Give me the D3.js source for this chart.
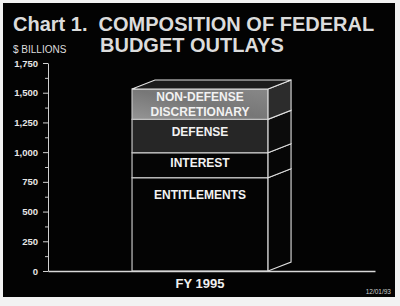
<!DOCTYPE html>
<html>
<head>
<meta charset="utf-8">
<script src="https://cdn.jsdelivr.net/npm/d3@7"></script>
<style>
  body { margin: 0; background: #f2f2f2; }
  svg { display: block; font-family: "Liberation Sans", Arial, sans-serif; }
  .tick text { fill: #e6e6e6; font-weight: bold; }
</style>
</head>
<body>
<svg id="chart" width="400" height="306"></svg>
<script>
// chart data
const years = ["FY 1995"]
const segments = ["ENTITLEMENTS", "INTEREST", "DEFENSE", "NON-DEFENSE DISCRETIONARY"]
const outlays = [785, 210, 281, 255]   // $ billions, bottom to top
const yTicks = [0, 250, 500, 750, 1000, 1250, 1500, 1750]
const yMinorTicks = [125, 375, 625, 875, 1125, 1375, 1625]

let svg = d3.select("#chart")

// black panel
svg.append("rect").attr("x", 3).attr("y", 3).attr("width", 392).attr("height", 294).style("fill", "#030303")

// title
svg.append("text").attr("x", 13).attr("y", 31).text("Chart 1.  COMPOSITION OF FEDERAL")
    .style("white-space", "pre")
    .style("font-size", "20px").style("font-weight", "bold").style("fill", "#dcdcdc")
svg.append("text").attr("x", 100).attr("y", 52).text("BUDGET OUTLAYS")
    .style("font-size", "20px").style("font-weight", "bold").style("fill", "#dcdcdc")
svg.append("text").attr("x", 13).attr("y", 53).text("$ BILLIONS")
    .style("font-size", "10px").style("fill", "#dddddd")
svg.append("text").attr("x", 391).attr("y", 294).text("12/01/93")
    .style("font-size", "6.5px").style("fill", "#cccccc").style("text-anchor", "end")

// scales
let x = d3.scaleBand()
    .domain(years)
    .range([48, 375])
    .paddingInner(0)
    .paddingOuter(0.702)
    .align(0.44)

let y = d3.scaleLinear()
    .domain([0, 1750])
    .range([271, 63])

// y axis
let yAxisG = svg.append("g").attr("transform", "translate(48,0)")
    .call(d3.axisLeft(y).tickValues(yTicks).tickFormat(d3.format(",")).tickSize(5).tickSizeOuter(0).tickPadding(5))
yAxisG.selectAll("text").style("font-size", "9.5px")
yAxisG.selectAll("line, path").style("stroke", "#d0d0d0")

let yMinorG = svg.append("g").attr("transform", "translate(48,0)")
    .call(d3.axisLeft(y).tickValues(yMinorTicks).tickFormat("").tickSize(3).tickSizeOuter(0))
yMinorG.select(".domain").remove()
yMinorG.selectAll("line").style("stroke", "#c8c8c8")

// stack data
let stacked = []
let base = 0
outlays.forEach((v, i) => {
    stacked.push({ name: segments[i], y0: base, y1: base + v })
    base += v
})

// fills
let defs = svg.append("defs")
let grad = defs.append("linearGradient").attr("id", "ndGrad")
    .attr("x1", "0").attr("y1", "1").attr("x2", "1").attr("y2", "0")
grad.append("stop").attr("offset", "0%").attr("stop-color", "#959595")
grad.append("stop").attr("offset", "50%").attr("stop-color", "#777777")
grad.append("stop").attr("offset", "100%").attr("stop-color", "#888888")

let frontFill = ["#040404", "#050505", "#262626", "url(#ndGrad)"]
let sideFill = ["#050505", "#060606", "#0c0c0c", "#2c2c2c"]
let labelDy = [21, 14, 17, 12]

// 3d depth
let dx = 23, dy = -9
let x0 = x(years[0]), x1 = x(years[0]) + x.bandwidth()

let bar = svg.append("g")

// front faces
bar.selectAll("rect.front")
    .data(stacked)
    .join("rect")
    .attr("class", "front")
    .attr("x", x0)
    .attr("y", d => y(d.y1))
    .attr("width", x.bandwidth())
    .attr("height", d => y(d.y0) - y(d.y1))
    .style("fill", (d, i) => frontFill[i])
    .style("stroke", "#c4c4c4")
    .style("stroke-width", 1.2)

// side faces
bar.selectAll("polygon.side")
    .data(stacked)
    .join("polygon")
    .attr("class", "side")
    .attr("points", d => [[x1, y(d.y1)], [x1 + dx, y(d.y1) + dy], [x1 + dx, y(d.y0) + dy], [x1, y(d.y0)]].join(" "))
    .style("fill", (d, i) => sideFill[i])
    .style("stroke", "#e0e0e0")
    .style("stroke-width", 1.1)

// top face
let barTop = y(base)
bar.append("polygon")
    .attr("points", [[x0, barTop], [x0 + dx, barTop + dy], [x1 + dx, barTop + dy], [x1, barTop]].join(" "))
    .style("fill", "#1c1c1c")
    .style("stroke", "#e4e4e4")
    .style("stroke-width", 1.1)

// segment labels
stacked.forEach((d, i) => {
    let words = d.name === "NON-DEFENSE DISCRETIONARY" ? ["NON-DEFENSE", "DISCRETIONARY"] : [d.name]
    words.forEach((w, j) => {
        bar.append("text")
            .attr("x", x0 + x.bandwidth() / 2)
            .attr("y", y(d.y1) + labelDy[i] + j * 15)
            .text(w)
            .style("text-anchor", "middle")
            .style("font-size", "12px")
            .style("font-weight", "bold")
            .style("fill", "#f2f2f2")
    })
})

// x axis
let xAxisG = svg.append("g").attr("transform", "translate(0,271)")
    .call(d3.axisBottom(x).tickSize(0).tickSizeOuter(0).tickPadding(8))
xAxisG.select(".domain").style("stroke", "#d8d8d8").style("stroke-width", 1.3)
xAxisG.selectAll("text").style("font-size", "13px").style("fill", "#f0f0f0")
</script>
</body>
</html>
